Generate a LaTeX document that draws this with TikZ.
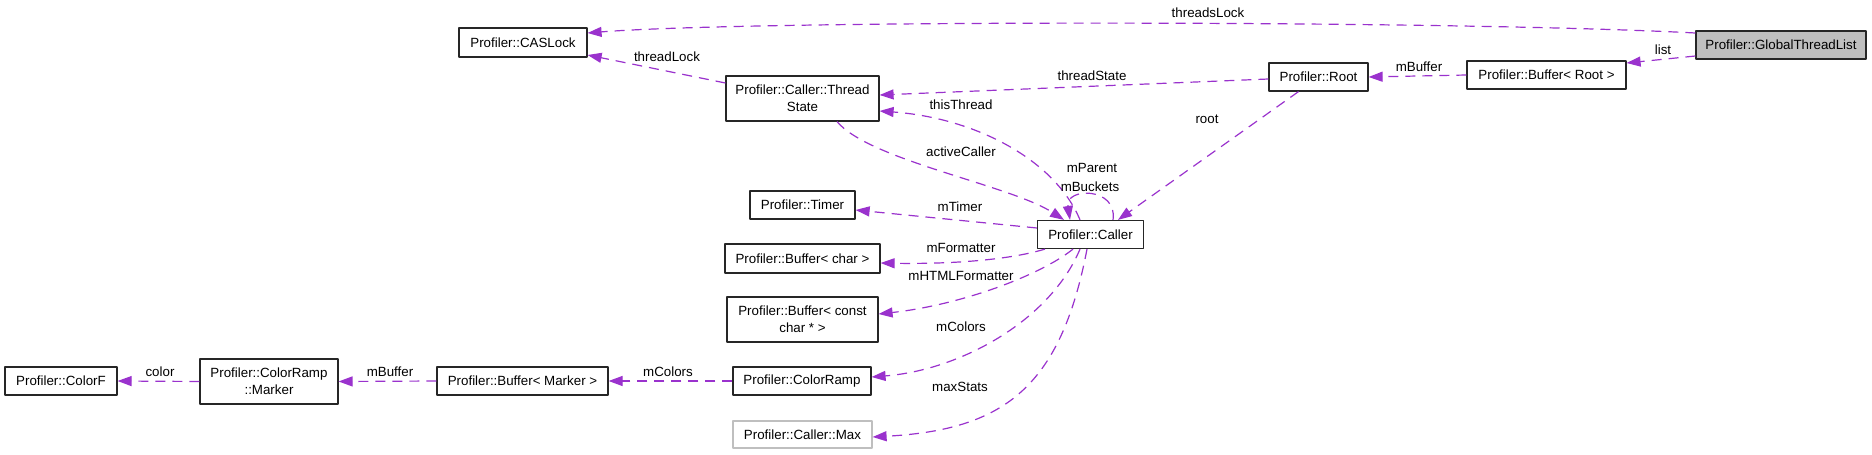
\documentclass[tikz,border=0pt]{standalone}
\usepackage{fontspec}
\setmainfont{Liberation Sans}
\usetikzlibrary{arrows.meta}
\definecolor{edgecol}{HTML}{9A32CD}
\definecolor{boxgray}{HTML}{BFBFBF}
\begin{document}
\begin{tikzpicture}[x=1pt, y=-1pt, line join=round,
  font=\fontsize{13.33}{17.3}\selectfont, >={Triangle[length=14pt,width=10pt]},
  cls/.style={draw=black!85, line width=1.2pt, minimum height=28pt, inner sep=0pt, align=center},
  rel/.style={->, draw=edgecol, line width=1.2pt, dash pattern=on 10pt off 7pt},
  lbl/.style={inner sep=0pt}]
\useasboundingbox (0,0) rectangle (1872,455);
% Upper row of classes
\node[cls, minimum width=170pt, fill=boxgray] (gtl) at (1781,45) {Profiler::GlobalThreadList};
\node[cls, minimum width=128pt, minimum height=29pt] (caslock) at (523,42.5) {Profiler::CASLock};
\node[cls, minimum width=159pt] (bufroot) at (1546.5,75) {Profiler::Buffer< Root >};
\node[cls, minimum width=99pt] (root) at (1318.5,77) {Profiler::Root};
\node[cls, minimum width=153pt, minimum height=45pt] (ts) at (802.5,98.5) {Profiler::Caller::Thread\\State};
% Caller and its members
\node[cls, minimum width=106pt] (caller) at (1090.5,234.5) {Profiler::Caller};
\node[cls, minimum width=105pt] (timer) at (802.5,205) {Profiler::Timer};
\node[cls, minimum width=155pt, minimum height=29pt] (bufchar) at (802.5,258.5) {Profiler::Buffer< char >};
\node[cls, minimum width=151pt, minimum height=45pt] (bufcc) at (802.5,319.5) {Profiler::Buffer< const\\char * >};
\node[cls, minimum width=138pt] (ramp) at (802,381) {Profiler::ColorRamp};
\node[cls, minimum width=139pt, minimum height=27pt, draw=boxgray] (cmax) at (802.5,434.5) {Profiler::Caller::Max};
% Lower left row
\node[cls, minimum width=171pt] (bufmark) at (522.5,381) {Profiler::Buffer< Marker >};
\node[cls, minimum width=138pt, minimum height=45pt] (marker) at (269,381.5) {Profiler::ColorRamp\\::Marker};
\node[cls, minimum width=112pt] (colorf) at (61,381) {Profiler::ColorF};
% Edges from GlobalThreadList
\draw[rel] ([yshift=12pt]gtl.west) .. controls +(-246,-13) and +(163,-13) .. ([yshift=9.5pt]caslock.east);
\draw[rel] ([yshift=-11pt]gtl.west) -- ([yshift=12pt]bufroot.east);
\draw[rel] (bufroot.west) -- (root.east);
\draw[rel] ([yshift=-2pt]root.west) -- ([yshift=3.5pt]ts.east);
\draw[rel] ([xshift=-20pt]root.south) -- ([xshift=27.5pt]caller.north);
\draw[rel] ([yshift=15.5pt]ts.west) -- ([yshift=-12.5pt]caslock.east);
% Edges round Caller
\draw[rel] ([xshift=-10.5pt]caller.north) .. controls +(-25,-60) and +(96,7) .. ([yshift=-12.5pt]ts.east);
\draw[rel] ([xshift=34.5pt]ts.south) .. controls +(33,39) and +(-54,-35) .. ([xshift=-26.5pt]caller.north);
\draw[rel] ([xshift=22.5pt]caller.north) .. controls +(5,-33) and +(-5,-33) .. ([xshift=-20.5pt]caller.north);
\draw[rel] ([yshift=6.5pt]caller.west) -- ([yshift=-5pt]timer.east);
\draw[rel] ([xshift=-45.5pt]caller.south) .. controls +(-45,13.5) and +(50,1) .. ([yshift=-4.5pt]bufchar.east);
\draw[rel] ([xshift=-17.5pt]caller.south) .. controls +(-33,26.5) and +(82,-9) .. ([yshift=5.5pt]bufcc.east);
\draw[rel] ([xshift=-10.5pt]caller.south) .. controls +(-30,71.5) and +(89,-7) .. ([yshift=4pt]ramp.east);
\draw[rel] ([xshift=-3.5pt]caller.south) .. controls +(-27,141.5) and +(128,-7) .. ([yshift=-2.5pt]cmax.east);
% Lower chain
\draw[rel] (ramp.west) -- (bufmark.east);
\draw[rel] (bufmark.west) -- (marker.east);
\draw[rel] (marker.west) -- (colorf.east);
% Edge labels
\node[lbl] (lthreadslock) at (1208,13) {threadsLock};
\node[lbl] (llist) at (1663,50) {list};
\node[lbl] (lmbuffer) at (1419,67) {mBuffer};
\node[lbl] (lthreadstate) at (1092,76) {threadState};
\node[lbl] (lroot) at (1207,119) {root};
\node[lbl] (lthreadlock) at (667,57) {threadLock};
\node[lbl] (lthisthread) at (961,105) {thisThread};
\node[lbl] (lactivecaller) at (961,152) {activeCaller};
\node[lbl] (lmparent) at (1092,168) {mParent};
\node[lbl] (lmbuckets) at (1090,187) {mBuckets};
\node[lbl] (lmtimer) at (960,207) {mTimer};
\node[lbl] (lmformatter) at (961,248) {mFormatter};
\node[lbl] (lmhtml) at (961,276) {mHTMLFormatter};
\node[lbl] (lmcolors) at (961,327) {mColors};
\node[lbl] (lmaxstats) at (960,387) {maxStats};
\node[lbl] (lcolor) at (160,372) {color};
\node[lbl] (lmbuffermark) at (390,372) {mBuffer};
\node[lbl] (lmcolorsramp) at (668,372) {mColors};
\end{tikzpicture}
\end{document}
